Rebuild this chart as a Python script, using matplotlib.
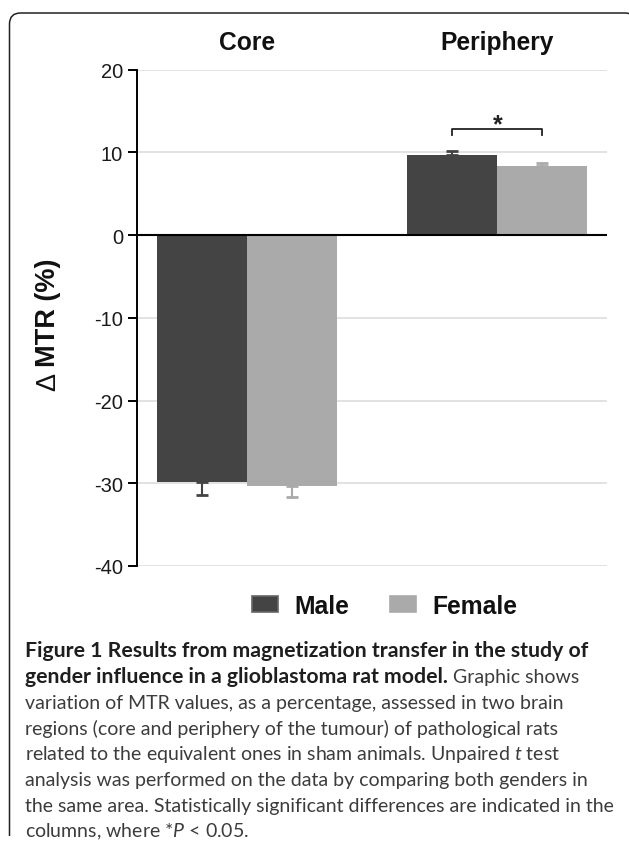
import matplotlib
matplotlib.use("Agg")
import matplotlib.pyplot as plt
import numpy as np
from matplotlib.patches import Patch, PathPatch
from matplotlib.path import Path
from matplotlib.transforms import IdentityTransform

# ---------------- data ----------------
regions = ["Core", "Periphery"]
male = [-29.8, 9.7]
female = [-30.3, 8.4]
male_err = [1.6, 0.5]
female_err = [1.3, 0.35]
series_names = ["Male", "Female"]
yticks = [20, 10, 0, -10, -20, -30, -40]
caption_lines = [
    "Figure 1 Results from magnetization transfer in the study of",
    "gender influence in a glioblastoma rat model.",
    " Graphic shows",
    "variation of MTR values, as a percentage, assessed in two brain",
    "regions (core and periphery of the tumour) of pathological rats",
    r"related to the equivalent ones in sham animals. Unpaired $\mathit{t}$ test",
    "analysis was performed on the data by comparing both genders in",
    "the same area. Statistically significant differences are indicated in the",
    r"columns, where *$\mathit{P}$ < 0.05.",
]

cap_font = "Lato"
plt.rcParams["axes.unicode_minus"] = False
plt.rcParams["mathtext.fontset"] = "custom"
plt.rcParams["mathtext.rm"] = cap_font
plt.rcParams["mathtext.it"] = cap_font + ":italic"
plt.rcParams["mathtext.bf"] = cap_font + ":bold"
plt.rcParams["font.family"] = ["Liberation Sans", "DejaVu Sans"]

W, H = 629, 845
fig = plt.figure(figsize=(W / 100, H / 100), dpi=100)

MALE_C = "#444444"
FEMALE_C = "#aaaaaa"

ax_l, ax_r = 136.7, 607.3
ax_t, ax_b = 70.7, 567.0
ax = fig.add_axes([ax_l / W, 1 - ax_b / H, (ax_r - ax_l) / W, (ax_b - ax_t) / H])
ax.set_ylim(-40, 20)
ax.set_xlim(-0.4407, 1.4395)

x = np.arange(len(regions))
bw = 0.36

def err_arrays(vals, errs):
    lo = [e if v < 0 else 0 for v, e in zip(vals, errs)]
    hi = [e if v >= 0 else 0 for v, e in zip(vals, errs)]
    return [lo, hi]

for yv in yticks:
    if yv != 0:
        ax.axhline(yv, color="#dddddd", lw=1.2, zorder=0)

ax.bar(x - bw / 2, male, width=bw, color=MALE_C, zorder=2,
       yerr=err_arrays(male, male_err),
       error_kw=dict(ecolor=MALE_C, elinewidth=1.5, capsize=4.5, capthick=2.0, zorder=1))
ax.bar(x + bw / 2, female, width=bw, color=FEMALE_C, zorder=2,
       yerr=err_arrays(female, female_err),
       error_kw=dict(ecolor=FEMALE_C, elinewidth=1.5, capsize=4.5, capthick=2.0, zorder=1))

ax.axhline(0, color="black", lw=1.5, zorder=3)

# spines / ticks
for s in ["top", "right", "bottom"]:
    ax.spines[s].set_visible(False)
ax.spines["left"].set_linewidth(1.4)
ax.set_xticks([])
ax.set_yticks(yticks)
ax.set_yticklabels([str(v) for v in yticks])
ax.tick_params(axis="y", direction="out", length=6.5, width=1.4, pad=3.2,
               labelsize=14.5, labelcolor="#1a1a1a")

# region titles
for xi, name in zip(x, regions):
    ax.text(xi, 22.55, name, ha="center", va="baseline", fontsize=17.7,
            fontweight="bold", color="#111111", clip_on=False)

# significance bracket
bx0, bx1 = x[1] - bw / 2, x[1] + bw / 2
ax.plot([bx0, bx0, bx1, bx1], [12.1, 12.83, 12.83, 12.1], color="#222222",
        lw=1.3, clip_on=False, zorder=4)
ax.text(x[1], 12.6, "*", ha="center", va="baseline", fontsize=18,
        fontweight="bold", color="#222222")

# y label: thin delta + bold text
fig.text(48.3 / W, 1 - 312.5 / H, "MTR (%)", rotation=90, ha="center",
         va="center", fontsize=19.5, fontweight="bold", color="#111111")
fig.text(48.3 / W, 1 - 382 / H, "Δ", rotation=90, ha="center",
         va="center", fontsize=19.5, fontweight="normal", color="#111111")

# legend
handles = [Patch(facecolor=MALE_C, edgecolor="#666666", linewidth=1.2),
           Patch(facecolor=FEMALE_C, edgecolor=FEMALE_C, linewidth=1.2)]
leg = fig.legend(handles, series_names, loc="center",
                 bbox_to_anchor=(384.7 / W, 1 - 606.5 / H), ncol=2,
                 frameon=False, fontsize=17.7, handlelength=1.06,
                 handleheight=0.65, handletextpad=0.69, columnspacing=1.63)
for t in leg.get_texts():
    t.set_fontweight("bold")
    t.set_color("#111111")

# border (rounded top-left, cropped right/bottom)
r = 11
xl, xr, yt, yb = 9.5, 636, 14, 837
pts = [(xl, H - yb), (xl, H - (yt + r)),
       (xl, H - yt), (xl + r, H - yt),
       (xr - r, H - yt),
       (xr, H - yt), (xr, H - (yt + r))]
codes = [Path.MOVETO, Path.LINETO, Path.CURVE3, Path.CURVE3, Path.LINETO,
         Path.CURVE3, Path.CURVE3]
fig.add_artist(PathPatch(Path(pts, codes), facecolor="none", edgecolor="#222222",
                         lw=1.1, transform=IdentityTransform()))

# caption
cx = 25 / W
base0, pitch = 657.5, 25.75
BOLD_C = "#1e1e1e"
REG_C = "#3c3c3c"
target_w = 612.3 - 25
target_bold_w = 585.7 - 25

# fit caption sizes to the reference line widths
probe = fig.text(0, 0, caption_lines[7], fontsize=12, family=cap_font)
probe_b = fig.text(0, 0.1, caption_lines[0], fontsize=12, family=cap_font,
                   fontweight="bold")
fig.canvas.draw()
cap_fs = 12 * target_w / probe.get_window_extent().width
cap_fs_b = 12 * target_bold_w / probe_b.get_window_extent().width
probe.remove()
probe_b.remove()

def cy(i):
    return 1 - (base0 + pitch * i) / H

fig.text(cx, cy(0), caption_lines[0], fontsize=cap_fs_b, family=cap_font,
         fontweight="bold", color=BOLD_C, va="baseline")
t2 = fig.text(cx, cy(1), caption_lines[1], fontsize=cap_fs_b, family=cap_font,
              fontweight="bold", color=BOLD_C, va="baseline")
fig.canvas.draw()
bb = t2.get_window_extent()
fig.text((bb.x1 + 0.26 * cap_fs * 100 / 72) / W, cy(1), caption_lines[2].strip(),
         fontsize=cap_fs, family=cap_font, color=REG_C, va="baseline")
for i, line in enumerate(caption_lines[3:], start=2):
    fig.text(cx, cy(i), line, fontsize=cap_fs, family=cap_font, color=REG_C,
             va="baseline")

fig.savefig("out.png", dpi=100)
